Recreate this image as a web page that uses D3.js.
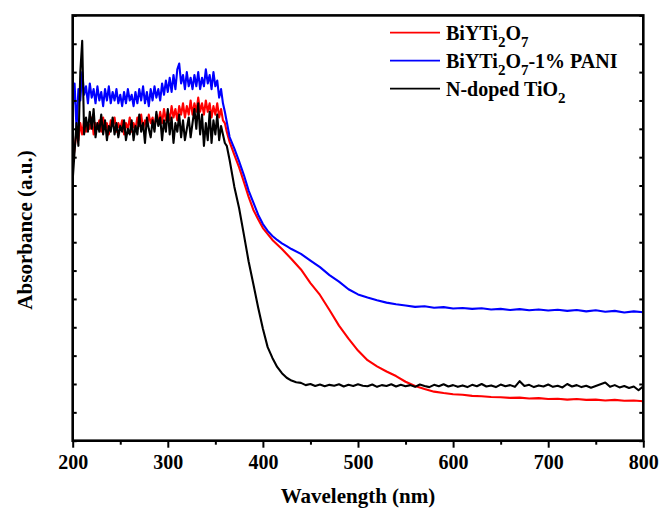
<!DOCTYPE html>
<html><head><meta charset="utf-8">
<script src="https://cdn.jsdelivr.net/npm/d3@7"></script>
<style>body{margin:0;background:#fff}svg{display:block}</style>
</head><body>
<svg id="c" width="660" height="512"></svg>
<script>
// ---------- data ----------
const plateauWl = d3.range(200, 361, 2); // sampling grid 200..360 nm

const redPlateau = [0.98,1.03,1.09,1.06,1.12,1.08,1.13,1.09,1.12,1.10,1.14,1.08,1.12,1.10,1.13,1.09,1.14,1.10,1.12,1.08,
  1.13,1.11,1.14,1.09,1.12,1.10,1.13,1.08,1.12,1.10,1.14,1.09,1.12,1.10,1.14,1.11,1.15,1.10,1.13,1.11,
  1.15,1.12,1.14,1.10,1.15,1.12,1.16,1.12,1.17,1.13,1.16,1.13,1.18,1.14,1.17,1.13,1.18,1.15,1.19,1.14,
  1.18,1.15,1.20,1.15,1.19,1.16,1.21,1.16,1.19,1.15,1.20,1.16,1.19,1.14,1.18,1.15,1.19,1.14,1.17,1.13,1.12];
const redTailWl = [362,365,370,375,380,385,390,395,400,410,420,430,440,450,460,470,480,490,500,510,520,530,540,550,
  560,570,580,590,600,610,620,630,640,650,660,670,680,690,700,710,720,730,740,750,760,770,780,790,800];
const redTail = [1.09,1.054,1.008,0.964,0.913,0.860,0.814,0.781,0.750,0.708,0.676,0.641,0.604,0.556,0.514,0.461,0.406,0.360,0.318,0.284,0.262,0.244,0.228,0.208,
  0.193,0.182,0.173,0.168,0.164,0.162,0.158,0.157,0.154,0.153,0.151,0.152,0.149,0.150,0.147,0.148,0.145,0.147,0.144,0.145,0.142,0.144,0.141,0.142,0.139];

const bluePlateau = [1.17,1.26,1.10,1.24,1.20,1.30,1.22,1.25,1.19,1.26,1.21,1.24,1.19,1.25,1.20,1.23,1.18,1.24,1.20,1.25,
  1.19,1.23,1.20,1.24,1.19,1.22,1.18,1.23,1.19,1.24,1.20,1.22,1.18,1.23,1.19,1.24,1.20,1.25,1.19,1.23,
  1.18,1.24,1.20,1.25,1.21,1.24,1.20,1.26,1.22,1.27,1.23,1.28,1.23,1.29,1.24,1.31,1.33,1.26,1.29,1.24,
  1.30,1.25,1.28,1.24,1.29,1.25,1.30,1.24,1.28,1.25,1.31,1.26,1.29,1.24,1.30,1.25,1.27,1.21,1.24,1.19,1.16];
const blueTailWl = [365,370,375,380,385,390,395,400,405,410,415,420,425,430,440,450,460,470,480,490,500,510,520,530,540,550,
  560,570,580,590,600,610,620,630,640,650,660,670,680,690,700,710,720,730,740,750,760,770,780,790,800];
const blueTail = [1.071,1.030,0.985,0.937,0.882,0.840,0.797,0.764,0.740,0.722,0.708,0.696,0.686,0.676,0.659,0.635,0.612,0.584,0.561,0.534,0.516,0.505,0.495,0.487,0.481,0.477,
  0.472,0.474,0.469,0.471,0.466,0.468,0.465,0.467,0.463,0.465,0.461,0.464,0.460,0.463,0.459,0.462,0.458,0.461,0.456,0.460,0.455,0.458,0.452,0.456,0.453];

const blackPlateau = [0.92,1.02,1.12,1.04,1.30,1.41,1.08,1.14,1.09,1.16,1.10,1.17,1.07,1.12,1.09,1.15,1.08,1.13,1.06,1.11,
  1.09,1.14,1.08,1.12,1.07,1.11,1.09,1.13,1.06,1.10,1.08,1.13,1.06,1.11,1.08,1.15,1.09,1.12,1.05,1.14,
  1.10,1.07,1.13,1.09,1.16,1.11,1.14,1.06,1.13,1.09,1.17,1.08,1.14,1.05,1.12,1.09,1.15,1.07,1.13,1.06,
  1.10,1.14,1.07,1.12,1.17,1.10,1.19,1.08,1.15,1.04,1.12,1.06,1.16,1.05,1.13,1.08,1.15,1.06,1.11,1.08,1.05];
const blackTailWl = [362,365,370,375,380,385,390,395,400,405,410,415,420,425,430,435,440,
  445,450,455,460,465,470,475,480,485,490,495,500,505,510,515,520,525,530,535,540,545,550,555,560,565,570,575,580,585,590,595,
  600,605,610,615,620,625,630,635,640,645,650,655,660,665,670,675,680,685,690,695,700,705,710,715,720,725,730,735,740,745,
  750,755,760,765,770,775,780,785,790,795,800];
const blackTail = [1.04,0.990,0.895,0.820,0.727,0.632,0.552,0.470,0.395,0.330,0.292,0.260,0.238,0.222,0.212,0.206,0.204,
  0.196,0.200,0.193,0.198,0.192,0.197,0.194,0.199,0.191,0.197,0.193,0.199,0.194,0.192,0.198,0.190,0.196,0.193,0.199,0.191,0.197,0.192,0.196,0.190,0.198,0.193,0.189,0.197,0.192,0.199,0.191,
  0.196,0.190,0.195,0.189,0.197,0.192,0.200,0.191,0.195,0.189,0.198,0.192,0.196,0.190,0.210,0.193,0.197,0.189,0.195,0.191,0.198,0.190,0.194,0.188,0.200,0.191,0.196,0.189,0.194,0.187,
  0.193,0.199,0.205,0.190,0.196,0.188,0.193,0.186,0.191,0.178,0.192];

const seriesNames = ["BiYTi2O7", "BiYTi2O7-1% PANI", "N-doped TiO2"];
const seriesColors = ["#ff0000", "#0000ff", "#000000"];
// legend label pieces: [text, isSubscript]
const legendLabels = [
  [["BiYTi",0],["2",1],["O",0],["7",1]],
  [["BiYTi",0],["2",1],["O",0],["7",1],["-1% PANI",0]],
  [["N-doped TiO",0],["2",1]]
];
const xMajorTicks = [200,300,400,500,600,700,800];
const xMinorTicks = [250,350,450,550,650,750];
const yTicks = d3.range(0, 1.501, 0.1);
const xTitle = "Wavelength (nm)";
const yTitle = "Absorbance (a.u.)";

// ---------- build ----------
const zip = (wl, v) => wl.map((w,i)=>[w, v[i]]);
const series = [
  zip(plateauWl, redPlateau).concat(zip(redTailWl, redTail)),
  zip(plateauWl, bluePlateau).concat(zip(blueTailWl, blueTail)),
  zip(plateauWl, blackPlateau).concat(zip(blackTailWl, blackTail))
];

const L = 72.7, R = 643.3, T = 15.4, B = 440.7;
const FONT = "'Liberation Serif', 'Times New Roman', serif";
const svg = d3.select("#c");
const x = d3.scaleLinear([200, 800], [L, R]);
const y = d3.scaleLinear([0, 1.5], [B, T]);

svg.append("clipPath").attr("id","clip").append("rect")
  .attr("x", L).attr("y", T).attr("width", R-L).attr("height", B-T);

const line = d3.line().x(d=>x(d[0])).y(d=>y(d[1]));
const g = svg.append("g").attr("clip-path","url(#clip)");
series.forEach((s,i)=>{
  g.append("path").datum(s).attr("d", line)
    .attr("fill","none").attr("stroke", seriesColors[i])
    .attr("stroke-width", 2.1).attr("stroke-linejoin","round");
});

// axes
const styleAxis = sel => {
  sel.select(".domain").remove();
  sel.selectAll("line").attr("stroke","#000").attr("stroke-width",2);
  sel.selectAll("text").attr("fill","#000").style("font-family",FONT)
    .style("font-weight","bold").style("font-size","20px");
};
svg.append("g").attr("transform",`translate(0,${B})`)
  .call(d3.axisBottom(x).tickValues(xMajorTicks).tickSize(7).tickPadding(7).tickFormat(d3.format("d")))
  .call(styleAxis);
svg.append("g").attr("transform",`translate(0,${B})`)
  .call(d3.axisBottom(x).tickValues(xMinorTicks).tickSize(4).tickFormat(""))
  .call(styleAxis);
svg.append("g").attr("transform",`translate(${L},0)`)
  .call(d3.axisLeft(y).tickValues(yTicks).tickSize(-4).tickFormat(""))
  .call(styleAxis);
svg.append("g").attr("transform",`translate(${R},0)`)
  .call(d3.axisRight(y).tickValues(yTicks).tickSize(-4).tickFormat(""))
  .call(styleAxis);

svg.append("rect").attr("x",L).attr("y",T).attr("width",R-L).attr("height",B-T)
  .attr("fill","none").attr("stroke","#000").attr("stroke-width",2.6);

// titles
svg.append("text").attr("x",(L+R)/2).attr("y",503).attr("text-anchor","middle")
  .style("font-family",FONT).style("font-weight","bold").style("font-size","21px").text(xTitle);
svg.append("text").attr("transform",`translate(32,230) rotate(-90)`).attr("text-anchor","middle")
  .style("font-family",FONT).style("font-weight","bold").style("font-size","21px").text(yTitle);

// legend
const lg = svg.append("g");
legendLabels.forEach((parts,i)=>{
  const ly = 32.7 + i*28;
  lg.append("line").attr("x1",390).attr("x2",440).attr("y1",ly).attr("y2",ly)
    .attr("stroke",seriesColors[i]).attr("stroke-width",1.8);
  const t = lg.append("text").attr("x",446).attr("y",ly+7)
    .style("font-family",FONT).style("font-weight","bold").style("font-size","20px");
  let shifted = false;
  parts.forEach(([txt,sub])=>{
    const sp = t.append("tspan").text(txt);
    if (sub && !shifted){ sp.attr("dy",7).style("font-size","15px"); shifted = true; }
    else if (sub && shifted){ sp.style("font-size","15px"); }
    else if (!sub && shifted){ sp.attr("dy",-7); shifted = false; }
  });
});
</script>
</body></html>
